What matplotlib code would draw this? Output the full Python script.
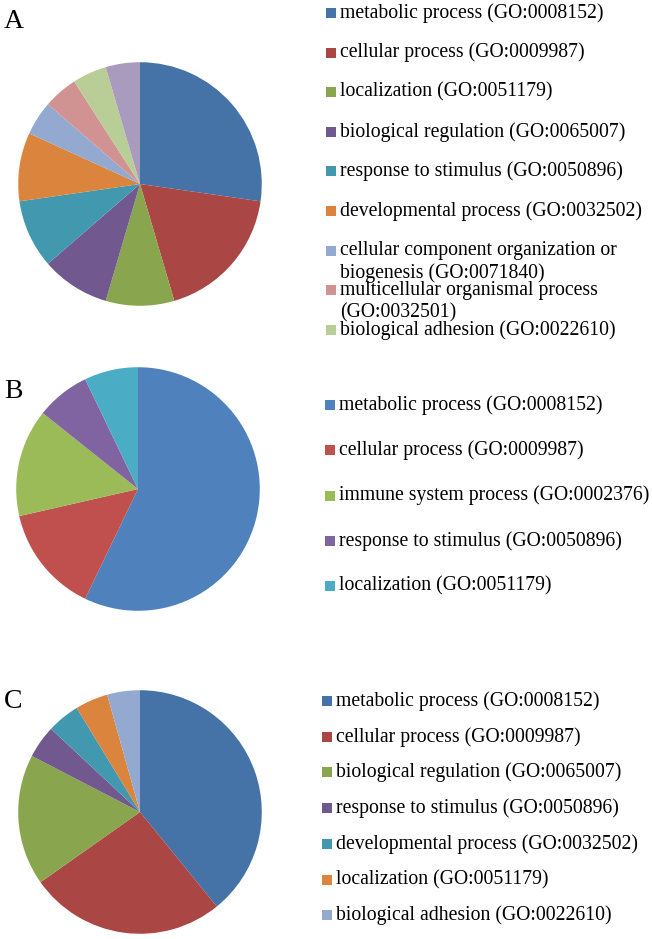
import matplotlib
matplotlib.use("Agg")
import matplotlib.pyplot as plt
from matplotlib.patches import Rectangle

# panel A
labels_a = ["metabolic process (GO:0008152)",
            "cellular process (GO:0009987)",
            "localization (GO:0051179)",
            "biological regulation (GO:0065007)",
            "response to stimulus (GO:0050896)",
            "developmental process (GO:0032502)",
            "cellular component organization or\nbiogenesis (GO:0071840)",
            "multicellular organismal process\n(GO:0032501)",
            "biological adhesion (GO:0022610)"]
values_a = [6, 4, 2, 2, 2, 2, 1, 1, 1, 1]

# panel B
labels_b = ["metabolic process (GO:0008152)",
            "cellular process (GO:0009987)",
            "immune system process (GO:0002376)",
            "response to stimulus (GO:0050896)",
            "localization (GO:0051179)"]
values_b = [8, 2, 2, 1, 1]

# panel C
labels_c = ["metabolic process (GO:0008152)",
            "cellular process (GO:0009987)",
            "biological regulation (GO:0065007)",
            "response to stimulus (GO:0050896)",
            "developmental process (GO:0032502)",
            "localization (GO:0051179)",
            "biological adhesion (GO:0022610)"]
values_c = [9, 6, 4, 1, 1, 1, 1]

dark = ["#4572A7", "#AA4643", "#89A54E", "#71588F", "#4198AF",
        "#DB843D", "#93A9CF", "#D19392", "#B9CD96", "#A99BBD"]
bright = ["#4F81BD", "#C0504D", "#9BBB59", "#8064A2", "#4BACC6"]

W, H = 652, 939
fig = plt.figure(figsize=(W / 100, H / 100), dpi=100)

# overlay in pixel coordinates for letters and legends
ov = fig.add_axes([0, 0, 1, 1])
ov.set_xlim(0, W)
ov.set_ylim(H, 0)
ov.axis("off")

font = "Liberation Serif"

panels = [
    # letter, letter y, values, colors, labels, pie center, legend x, first row y, row step
    ("A", 21, values_a, dark, labels_a, (140, 184), 326, 13, 39.6),
    ("B", 391, values_b, bright, labels_b, (138, 489), 325, 405, 45.3),
    ("C", 702, values_c, dark, labels_c, (140, 812), 322, 701, 35.7),
]
r = 123

for letter, ly, vals, cols, labs, (cx, cy), lx, y0, step in panels:
    ax = fig.add_axes([(cx - r) / W, 1 - (cy + r) / H, 2 * r / W, 2 * r / H])
    ax.pie(vals, colors=cols[:len(vals)], startangle=90, counterclock=False,
           radius=1, wedgeprops=dict(linewidth=0))
    ax.set_xlim(-1.01, 1.01)
    ax.set_ylim(-1.01, 1.01)
    ax.set_aspect("equal")
    ax.axis("off")

    ov.text(4, ly, letter, fontsize=20, family=font, va="center", ha="left")

    for i, lab in enumerate(labs):
        y = y0 + i * step
        ov.add_patch(Rectangle((lx, y - 5), 10, 10, color=cols[i], lw=0))
        for j, line in enumerate(lab.split("\n")):
            ov.text(lx + 14, y + j * 23, line, fontsize=14.2, family=font,
                    va="center", ha="left")

fig.savefig("out.png", dpi=100)
